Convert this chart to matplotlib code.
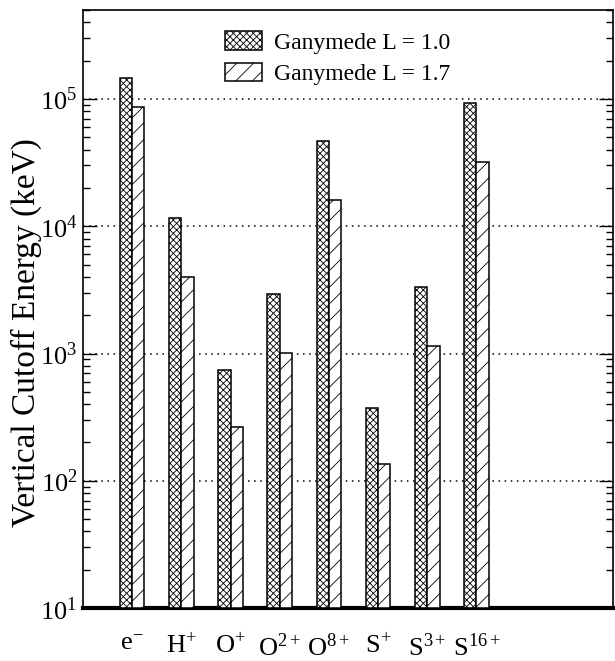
import numpy as np
import matplotlib
matplotlib.use("Agg")
import matplotlib.pyplot as plt
from matplotlib.ticker import LogLocator, NullFormatter

plt.rcParams['font.family'] = ['Liberation Serif', 'DejaVu Serif']
plt.rcParams['mathtext.fontset'] = 'stix'
plt.rcParams['hatch.linewidth'] = 0.6

species = [r'e$^{\mathregular{-}}$', r'H$^{\mathregular{+}}$', r'O$^{\mathregular{+}}$', r'O$^{\mathregular{2+}}$',
           r'O$^{\mathregular{8+}}$', r'S$^{\mathregular{+}}$', r'S$^{\mathregular{3+}}$', r'S$^{\mathregular{16+}}$']
cutoff_L10 = [1.47e5, 1.16e4, 730, 2940, 4.67e4, 363, 3320, 9.36e4]
cutoff_L17 = [8.6e4, 3980, 253, 1000, 1.6e4, 125, 1140, 3.2e4]
labels = ['Ganymede L = 1.0', 'Ganymede L = 1.7']


def main():
    fig = plt.figure(figsize=(6.15, 6.61), dpi=100)
    ax = fig.add_axes([0.135, 0.080, 0.862, 0.905])

    x = np.arange(len(species))
    w = 0.25
    ax.bar(x - w / 2, cutoff_L10, w, bottom=10, color='white', edgecolor='black',
           hatch='xxxxx', linewidth=1.1, label=labels[0], zorder=3)
    ax.bar(x + w / 2, cutoff_L17, w, bottom=10, color='white', edgecolor='black',
           hatch='//', linewidth=1.1, label=labels[1], zorder=3)

    ax.set_yscale('log')
    ax.set_ylim(10, 5e5)
    ax.set_xlim(-1.0, 9.78)
    ax.yaxis.set_minor_locator(LogLocator(base=10, subs=np.arange(2, 10), numticks=20))
    ax.yaxis.set_minor_formatter(NullFormatter())
    ax.set_yticks([10, 100, 1e3, 1e4, 1e5])
    ax.set_yticklabels([r'10$^{\mathregular{%d}}$' % k for k in range(1, 6)], fontsize=19)

    ax.set_xticks(x)
    ax.set_xticklabels(species, fontsize=19)
    ax.tick_params(axis='x', length=0, pad=18)
    ax.tick_params(axis='y', which='major', direction='in', length=10, width=1, right=True, pad=4)
    ax.tick_params(axis='y', which='minor', direction='in', length=5, width=1, right=True)

    for v in [100, 1e3, 1e4, 1e5]:
        ax.axhline(v, color='black', linestyle=(0, (1, 3)), linewidth=1.1, zorder=1)

    ax.spines['bottom'].set_linewidth(3)
    for s in ['left', 'right', 'top']:
        ax.spines[s].set_linewidth(1.2)

    ax.set_ylabel('Vertical Cutoff Energy (keV)', fontsize=24)
    ax.yaxis.set_label_coords(-0.078, 0.46)

    ax.legend(loc='upper left', bbox_to_anchor=(0.268, 0.964), frameon=False, fontsize=17,
              handlelength=1.55, handleheight=0.8, handletextpad=0.5, labelspacing=0.4,
              borderpad=0, borderaxespad=0)

    fig.savefig('out.png', dpi=100)


if __name__ == "__main__":
    main()
